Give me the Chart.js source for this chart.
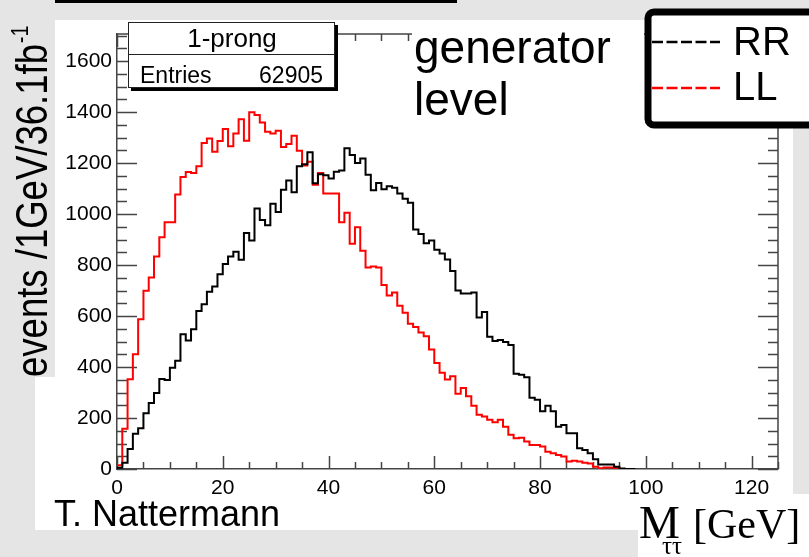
<!DOCTYPE html>
<html>
<head>
<meta charset="utf-8">
<script src="https://cdn.jsdelivr.net/npm/chart.js@4.4.1/dist/chart.umd.min.js"></script>
<style>
  html, body { margin: 0; padding: 0; background: #e5e5e5; }
  #wrap { width: 809px; height: 557px; position: relative; }
</style>
</head>
<body>
<div id="wrap"><canvas id="mttChart"></canvas></div>
<script>
// M_tautau at generator level, 1 GeV bins starting at 0 GeV
const binWidth = 1;

// RR (black)
const rrCounts = [
  5, 25, 78, 138, 160, 219, 259, 298, 353, 349,
  397, 425, 528, 504, 548, 620, 646, 695, 716, 764,
  804, 833, 852, 821, 926, 896, 1022, 977, 956, 1040,
  1008, 1095, 1131, 1085, 1187, 1195, 1242, 1121, 1156, 1152,
  1139, 1166, 1171, 1258, 1231, 1200, 1218, 1154, 1093, 1122,
  1097, 1109, 1103, 1080, 1060, 1044, 939, 922, 885, 896,
  860, 845, 822, 777, 700, 688, 688, 692, 594, 616,
  519, 502, 506, 498, 486, 374, 370, 360, 279, 272,
  226, 248, 226, 166, 173, 140, 140, 81, 75, 62,
  38, 18, 18, 18, 9, 2, 0, 0
];

// LL (red)
const llCounts = [
  15, 158, 352, 450, 587, 699, 751, 833, 909, 968,
  968, 1077, 1145, 1165, 1161, 1187, 1279, 1296, 1244, 1286,
  1333, 1266, 1316, 1372, 1287, 1399, 1388, 1359, 1323, 1316,
  1327, 1263, 1275, 1307, 1248, 1190, 1205, 1115, 1161, 1080,
  1080, 1080, 968, 1005, 883, 948, 856, 790, 794, 790,
  722, 680, 692, 640, 613, 570, 557, 535, 521, 469,
  416, 377, 351, 364, 295, 318, 285, 248, 213, 206,
  193, 183, 193, 166, 134, 121, 123, 108, 94, 94,
  88, 68, 62, 55, 49, 29, 32, 29, 25, 22,
  9, 3, 6, 6, 3, 0
];

const xMax = 125;
const yMax = 1706;
const xMajor = 20, xMinor = 5;
const yMajor = 200, yMinor = 50;
const entries = 62905;

const gray = '#e5e5e5';
const axisColor = '#444';
const sans = '"Liberation Sans", Arial, sans-serif';
const serif = '"Liberation Serif", "Times New Roman", serif';

// histogram outline: left edges, closed to zero at both ends
function toSteps(counts) {
  const pts = [{ x: 0, y: 0 }];
  counts.forEach((c, i) => pts.push({ x: i * binWidth, y: c }));
  pts.push({ x: counts.length * binWidth, y: 0 });
  return pts;
}

const rootStyle = {
  id: 'rootStyle',
  beforeDraw(chart) {
    const ctx = chart.ctx;
    ctx.save();
    ctx.fillStyle = gray;
    ctx.fillRect(0, 0, chart.width, chart.height);
    ctx.fillStyle = '#000';
    ctx.fillRect(32, 0, 425, 3);
    ctx.fillStyle = '#fff';
    ctx.fillRect(35, 20, 758, 510);
    ctx.fillRect(638, 494, 171, 63);
    ctx.fillStyle = gray;
    ctx.fillRect(0, 0, 55, 377);
    ctx.restore();
  },
  beforeDatasetsDraw(chart) {
    const { ctx, chartArea: a, scales: { x, y } } = chart;
    ctx.save();
    ctx.strokeStyle = axisColor;
    ctx.lineWidth = 1.5;
    ctx.beginPath();
    ctx.moveTo(a.left, a.top);
    ctx.lineTo(a.right, a.top);
    ctx.lineTo(a.right, a.bottom);
    for (let v = 0; v <= yMax; v += yMinor) {
      const py = Math.round(y.getPixelForValue(v)) + 0.5;
      const len = v % yMajor === 0 ? 20 : 10;
      ctx.moveTo(a.left, py); ctx.lineTo(a.left + len, py);
      ctx.moveTo(a.right, py); ctx.lineTo(a.right - len, py);
    }
    for (let v = 0; v <= xMax; v += xMinor) {
      const px = Math.round(x.getPixelForValue(v)) + 0.5;
      const len = v % xMajor === 0 ? 13 : 7;
      ctx.moveTo(px, a.bottom); ctx.lineTo(px, a.bottom - len);
      ctx.moveTo(px, a.top); ctx.lineTo(px, a.top + len);
    }
    ctx.stroke();
    ctx.restore();
  },
  afterDraw(chart) {
    const ctx = chart.ctx;
    ctx.save();
    ctx.textBaseline = 'alphabetic';

    // stats box
    ctx.fillStyle = '#000';
    ctx.fillRect(131, 25, 207, 66);
    ctx.fillStyle = '#fff';
    ctx.fillRect(128, 22, 207, 66);
    ctx.strokeStyle = '#222';
    ctx.lineWidth = 1;
    ctx.strokeRect(128.5, 22.5, 206, 65);
    ctx.beginPath();
    ctx.moveTo(128, 54.5); ctx.lineTo(335, 54.5);
    ctx.stroke();
    ctx.fillStyle = '#000';
    ctx.font = '26px ' + sans;
    ctx.textAlign = 'center';
    ctx.fillText('1-prong', 232, 47);
    ctx.font = '23px ' + sans;
    ctx.textAlign = 'left';
    ctx.fillText('Entries', 140, 83);
    ctx.textAlign = 'right';
    ctx.fillText(String(entries), 323, 83);

    // "generator level" label
    ctx.fillStyle = '#fff';
    ctx.fillRect(412, 20, 232, 105);
    ctx.fillStyle = '#000';
    ctx.textAlign = 'left';
    ctx.font = '46px ' + sans;
    ctx.fillText('generator', 414, 63);
    ctx.fillText('level', 414, 115);

    // legend
    ctx.fillStyle = '#fff';
    ctx.fillRect(648, 12, 170, 113);
    ctx.strokeStyle = '#000';
    ctx.lineWidth = 7;
    ctx.beginPath();
    ctx.roundRect(648, 12, 175, 113, 6);
    ctx.stroke();
    ctx.lineWidth = 2.5;
    ctx.setLineDash([11, 3.5]);
    ctx.beginPath();
    ctx.moveTo(652, 42); ctx.lineTo(720, 42);
    ctx.stroke();
    ctx.strokeStyle = '#ff0000';
    ctx.beginPath();
    ctx.moveTo(652, 88); ctx.lineTo(720, 88);
    ctx.stroke();
    ctx.setLineDash([]);
    ctx.fillStyle = '#000';
    ctx.font = '40px ' + sans;
    ctx.fillText('RR', 733, 55);
    ctx.fillText('LL', 733, 100);

    // author
    ctx.font = '36px ' + sans;
    ctx.fillText('T. Nattermann', 54, 526);

    // x title
    ctx.font = '46px ' + serif;
    ctx.fillText('M', 639, 538);
    ctx.font = '25px ' + serif;
    ctx.fillText('\u03c4\u03c4', 662, 554);
    ctx.font = '42px ' + serif;
    ctx.fillText('[GeV]', 693, 538);

    // y title, rotated and a little condensed
    ctx.translate(47, 377);
    ctx.rotate(-Math.PI / 2);
    ctx.scale(0.83, 1);
    ctx.font = '44px ' + sans;
    const yTitle = 'events /1GeV/36.1fb';
    ctx.fillText(yTitle, 0, 0);
    const w = ctx.measureText(yTitle).width;
    ctx.font = '24px ' + sans;
    ctx.fillText('-1', w + 1, -19);
    ctx.restore();
  }
};

const data = {
  datasets: [
    {
      label: 'RR',
      data: toSteps(rrCounts),
      borderColor: '#000000',
      borderWidth: 2,
      pointRadius: 0,
      stepped: true,
      fill: false,
    },
    {
      label: 'LL',
      data: toSteps(llCounts),
      borderColor: '#ff0000',
      borderWidth: 2,
      pointRadius: 0,
      stepped: true,
      fill: false,
    },
  ],
};

const tickFont = { family: sans, size: 21 };

const config = {
  type: 'line',
  data,
  options: {
    responsive: true,
    maintainAspectRatio: false,
    animation: false,
    layout: { padding: { top: 34, right: 31, left: 0, bottom: 0 } },
    plugins: {
      legend: { display: false },
      tooltip: { enabled: false },
    },
    scales: {
      x: {
        type: 'linear',
        min: 0,
        max: xMax,
        grid: { display: false, drawTicks: false },
        border: { display: true, color: axisColor, width: 1.5 },
        ticks: {
          stepSize: xMajor,
          includeBounds: false,
          autoSkip: false,
          maxRotation: 0,
          padding: 7,
          color: '#000',
          font: tickFont,
          callback: (v) => String(v),
        },
        afterFit(scale) { scale.height = 88; },
      },
      y: {
        min: 0,
        max: yMax,
        grid: { display: false, drawTicks: false },
        border: { display: true, color: axisColor, width: 1.5 },
        ticks: {
          stepSize: yMajor,
          includeBounds: false,
          padding: 5,
          color: '#000',
          font: tickFont,
          callback: (v) => String(v),
        },
        afterFit(scale) { scale.width = 117; },
      },
    },
  },
  plugins: [rootStyle],
};

const mttChart = new Chart(document.getElementById('mttChart'), config);
</script>
</body>
</html>
